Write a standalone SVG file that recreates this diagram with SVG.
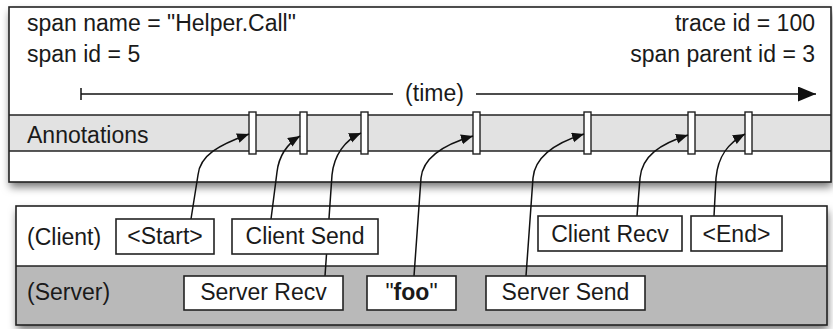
<svg xmlns="http://www.w3.org/2000/svg" width="833" height="329" viewBox="0 0 833 329">
<style>
text{font-family:"Liberation Sans",Arial,sans-serif;font-size:23px;fill:#1a1a1a}
.frame{stroke:#222;stroke-width:1.6;fill:none}
.box{fill:#fff;stroke:#222;stroke-width:1.6}
.tick{fill:#fff;stroke:#222;stroke-width:1.4}
.conn{fill:none;stroke:#111;stroke-width:1.5;marker-end:url(#ah)}
.mid{text-anchor:middle}
</style>
<defs>
<marker id="ah" markerUnits="userSpaceOnUse" markerWidth="14" markerHeight="11" refX="12" refY="5" orient="auto">
<path d="M0,0 L12,5 L0,10 z" fill="#111"/>
</marker>
<marker id="big" markerUnits="userSpaceOnUse" markerWidth="20" markerHeight="16" refX="18" refY="7.5" orient="auto">
<path d="M0,0 L18,7.5 L0,15 z" fill="#111"/>
</marker>
<filter id="sh" x="-5%" y="-10%" width="110%" height="130%">
<feDropShadow dx="1" dy="5" stdDeviation="4" flood-color="#000" flood-opacity="0.55"/>
</filter>
</defs>

<g id="span-box">
<rect x="9" y="7" width="822" height="175" fill="#fff" filter="url(#sh)"/>
<rect x="9" y="115" width="822" height="36" fill="#e2e2e2"/>
<line x1="9" y1="115" x2="831" y2="115" stroke="#222" stroke-width="1.5"/>
<line x1="9" y1="151" x2="831" y2="151" stroke="#222" stroke-width="1.5"/>
<rect x="9" y="7" width="822" height="175" class="frame"/>
<text x="27" y="31">span name = "Helper.Call"</text>
<text x="27" y="62">span id = 5</text>
<text x="815" y="31" text-anchor="end">trace id = 100</text>
<text x="815" y="62" text-anchor="end">span parent id = 3</text>
<text x="27" y="143">Annotations</text>
</g>

<g id="timeline">
<line x1="81" y1="88" x2="81" y2="100" stroke="#111" stroke-width="1.5"/>
<line x1="81" y1="94" x2="393" y2="94" stroke="#111" stroke-width="1.5"/>
<text x="434.5" y="101" class="mid">(time)</text>
<line x1="476" y1="94" x2="816" y2="94" stroke="#111" stroke-width="1.5" marker-end="url(#big)"/>
</g>

<g id="annotation-ticks">
<rect class="tick" x="249" y="112" width="7" height="42"/>
<rect class="tick" x="300" y="112" width="7" height="42"/>
<rect class="tick" x="361" y="112" width="7" height="42"/>
<rect class="tick" x="473" y="112" width="7" height="42"/>
<rect class="tick" x="584" y="112" width="7" height="42"/>
<rect class="tick" x="688" y="112" width="7" height="42"/>
<rect class="tick" x="745" y="112" width="7" height="42"/>
</g>

<g id="process-box">
<rect x="16" y="206" width="811" height="119" fill="#fff" filter="url(#sh)"/>
<rect x="16" y="266" width="811" height="59" fill="#b9b9b9"/>
<line x1="16" y1="266" x2="827" y2="266" stroke="#222" stroke-width="1.5"/>
<rect x="16" y="206" width="811" height="119" class="frame"/>
<text x="27" y="245">(Client)</text>
<text x="27" y="300">(Server)</text>
</g>

<g id="connectors">
<path class="conn" d="M191,219 L198,175 C200,155 219,145 249,134"/>
<path class="conn" d="M271,219 L277,172 C279,155 287,144 300,136"/>
<path class="conn" d="M325,276 L332,175 C334,155 345,140 361,133"/>
<path class="conn" d="M414,276 L421,178 C423,158 442,145 473,136"/>
<path class="conn" d="M526,276 L533,178 C535,156 555,143 584,134"/>
<path class="conn" d="M637,216 L640,178 C642,156 660,144 688,135"/>
<path class="conn" d="M714,216 L716,178 C718,156 728,143 745,134"/>
</g>

<g id="node-start"><rect class="box" x="116" y="219" width="98" height="35"/><text x="165" y="244" class="mid">&lt;Start&gt;</text></g>
<g id="node-client-send"><rect class="box" x="232" y="219" width="146" height="35"/><text x="305" y="244" class="mid">Client Send</text></g>
<g id="node-client-recv"><rect class="box" x="538" y="216" width="144" height="35"/><text x="610" y="242" class="mid">Client Recv</text></g>
<g id="node-end"><rect class="box" x="691" y="216" width="91" height="35"/><text x="736.5" y="242" class="mid">&lt;End&gt;</text></g>
<g id="node-server-recv"><rect class="box" x="184" y="276" width="159" height="34"/><text x="263.5" y="300" class="mid">Server Recv</text></g>
<g id="node-foo"><rect class="box" x="367" y="276" width="89" height="34"/><text x="411.5" y="300" class="mid">"<tspan font-weight="bold">foo</tspan>"</text></g>
<g id="node-server-send"><rect class="box" x="486" y="276" width="159" height="34"/><text x="565.5" y="300" class="mid">Server Send</text></g>
</svg>
